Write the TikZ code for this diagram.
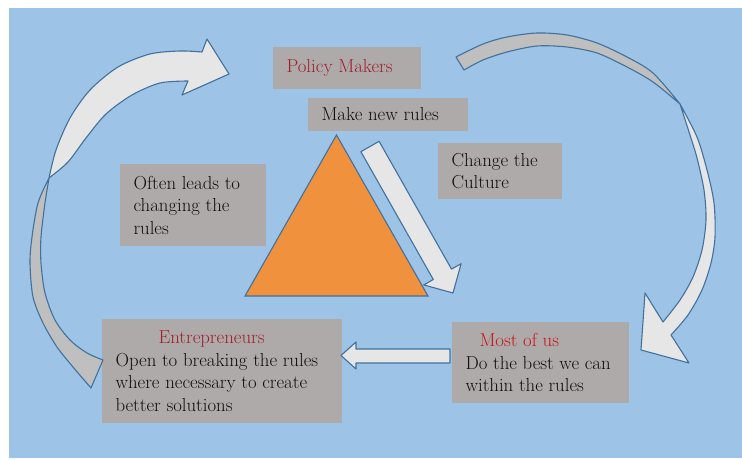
\documentclass[tikz,border=0pt]{standalone}
\usepackage{fontspec}
\usetikzlibrary{positioning}

\definecolor{skyBg}{RGB}{157,195,230}
\definecolor{boxGray}{RGB}{174,170,170}
\definecolor{edgeBlue}{RGB}{65,113,156}
\definecolor{pyramidOrange}{RGB}{240,145,62}
\definecolor{arrowLight}{RGB}{231,230,230}
\definecolor{arrowDark}{RGB}{191,191,191}
\definecolor{titleRed}{RGB}{160,30,45}
\definecolor{mostRed}{RGB}{200,20,30}
\definecolor{bodyInk}{RGB}{15,15,15}

\newcommand\boxPad{13.5pt}

\tikzset{
  box/.style={fill=boxGray, inner sep=0pt},
  txt/.style={inner sep=0pt, align=left, text=bodyInk, font=\rmfamily\fontsize{18.8}{22.5}\selectfont},
  frontArrow/.style={fill=arrowLight, draw=edgeBlue, line width=1.1pt, line join=round},
  backArrow/.style={fill=arrowDark, draw=edgeBlue, line width=1.1pt, line join=round},
}

\begin{document}
\begin{tikzpicture}[x=1pt, y=-1pt]
    \useasboundingbox (0,0) rectangle (742,460);
    \fill[skyBg] (9,8) rectangle (742,458);

    %% boxes
    \node[box, minimum width=148, minimum height=42] (pmBox) at (347,68) {};
    \node[box, minimum width=160, minimum height=33] (mnrBox) at (388,114.5) {};
    \node[box, minimum width=124, minimum height=56] (ctcBox) at (500,171) {};
    \node[box, minimum width=146, minimum height=82] (olBox) at (193,205) {};
    \node[box, minimum width=240, minimum height=104] (entBox) at (222,371) {};
    \node[box, minimum width=177, minimum height=81] (mouBox) at (540.5,362.5) {};

    %% texts
    \node[txt, text=titleRed, right=\boxPad of pmBox.west] (pm) {Policy Makers};
    \node[txt, right=\boxPad of mnrBox.west] (mnr) {Make new rules};
    \node[txt, right=\boxPad of ctcBox.west] (ctc) {Change the\\Culture};
    \node[txt, right=\boxPad of olBox.west] (ol) {Often leads to\\changing the\\rules};
    \node[txt, right=\boxPad of entBox.west] (ent) {\hspace*{43pt}\textcolor{titleRed}{Entrepreneurs}\\Open to breaking the rules\\where necessary to create\\better solutions};
    \node[txt, right=\boxPad of mouBox.west] (mou) {\hspace*{14pt}\textcolor{mostRed}{Most of us}\\Do the best we can\\within the rules};

    %% pyramid
    \draw[fill=pyramidOrange, draw=edgeBlue, line width=1.1pt] (336.5,135) -- (428,296) -- (245,296) -- cycle;

    %% straight arrows
    \draw[frontArrow] (379.1,141.3) -- (451.5,269.1) -- (461.1,263.7) -- (453,293) -- (423.7,284.9) -- (433.3,279.5) -- (360.9,151.7) -- cycle;
    \draw[frontArrow] (450,349) -- (356,349) -- (356,342) -- (341,355.5) -- (356,369) -- (356,363) -- (450,363) -- cycle;

    %% curved arrow, left side
    \draw[backArrow] plot[smooth] coordinates {(49,178) (38,203) (32,237) (30,263) (33,297) (43,323) (57,347) (73,367) (91,388)}
      -- (103,360) -- plot[smooth] coordinates {(103,360) (87,353) (70,340) (55,320) (45,293) (41,263) (41,237) (45,203) (49,178)} -- cycle;
    \draw[frontArrow] plot[smooth] coordinates {(49,178) (56,150) (70,118) (90,90) (118,67) (150,54) (180,51) (202,52)}
      -- (207,39) -- (229,74) -- (182,95) -- (188,81)
      -- plot[smooth] coordinates {(188,81) (160,83) (132,95) (106,114) (86,138) (68,162) (49,178)} -- cycle;

    %% curved arrow, right side
    \draw[backArrow] plot[smooth] coordinates {(456,57) (483,44) (507,37) (537,33) (567,35) (597,43) (627,57) (653,73) (680,104)}
      -- plot[smooth] coordinates {(680,104) (653,82) (627,67) (597,53) (567,47) (537,46) (507,52) (483,60) (464,70)} -- cycle;
    \draw[frontArrow] plot[smooth] coordinates {(680,104) (697,137) (707,170) (714,203) (715,237) (711,263) (702,290) (688,315) (671,335)}
      -- (689,363) -- (641,350) -- (645,293) -- (663,322)
      -- plot[smooth] coordinates {(663,322) (680,300) (693,277) (702,250) (706,220) (704,190) (697,158) (690,135) (680,104)} -- cycle;
\end{tikzpicture}
\end{document}
